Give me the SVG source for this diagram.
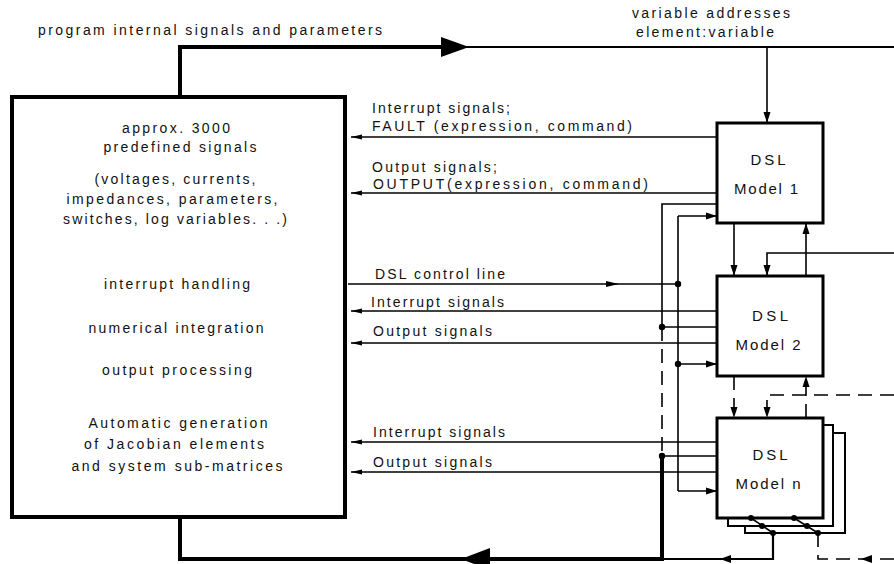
<svg xmlns="http://www.w3.org/2000/svg" width="894" height="564" viewBox="0 0 894 564">
<style>
text{font-family:"Liberation Sans",Arial,sans-serif;font-size:14px;fill:#111}
.c{text-anchor:middle}
.dsl{font-size:15px;text-anchor:middle}
.box{fill:#fff;stroke:#000;stroke-width:3}
.back{fill:#fff;stroke:#000;stroke-width:2}
.ln{fill:none;stroke:#000;stroke-width:1.6}
.thick{fill:none;stroke:#000;stroke-width:4}
.mid{fill:none;stroke:#000;stroke-width:2.2}
.dash{fill:none;stroke:#000;stroke-width:1.6;stroke-dasharray:14 8}
.ah{fill:#000}
</style>
<defs>
<marker id="a" markerUnits="userSpaceOnUse" markerWidth="12" markerHeight="8" refX="11" refY="4" orient="auto">
<path d="M0,0.5 L11,4 L0,7.5 z" fill="#000"/>
</marker>
<marker id="s" markerUnits="userSpaceOnUse" markerWidth="12" markerHeight="6" refX="11" refY="3" orient="auto">
<path d="M0,0.6 L11,3 L0,5.4 z" fill="#000"/>
</marker>
</defs>

<text x="38" y="35" textLength="344" lengthAdjust="spacing">program internal signals and parameters</text>
<text x="632" y="18" textLength="158" lengthAdjust="spacing">variable addresses</text>
<text x="636" y="37" textLength="138" lengthAdjust="spacing">element:variable</text>

<g id="connectors">
<!-- top loop -->
<path class="thick" d="M180,97 V47 H443"/>
<path class="mid" d="M466,47 H894"/>
<polygon class="ah" points="441,37 441,57 469,47"/>
<path class="ln" d="M767,47 V123" marker-end="url(#a)"/>
<!-- signals to left box -->
<path class="ln" d="M717,137 H351" marker-end="url(#s)"/>
<path class="ln" d="M717,193 H351" marker-end="url(#s)"/>
<path class="ln" d="M717,311 H351" marker-end="url(#s)"/>
<path class="ln" d="M717,343 H351" marker-end="url(#s)"/>
<path class="ln" d="M717,442 H351" marker-end="url(#s)"/>
<path class="ln" d="M717,472 H351" marker-end="url(#s)"/>
<!-- DSL control line -->
<path class="ln" d="M348,284 H678"/>
<polygon class="ah" points="606,281 619,284 606,287"/>
<path class="ln" d="M678,216 V491"/>
<path class="ln" d="M678,216 H717" marker-end="url(#a)"/>
<path class="ln" d="M678,364 H717" marker-end="url(#a)"/>
<path class="ln" d="M678,491 H717" marker-end="url(#a)"/>
<circle cx="678" cy="284" r="3.2"/>
<circle cx="678" cy="364" r="3.2"/>
<!-- model outputs collected at x=662 -->
<path class="ln" d="M717,204 H662 V327"/>
<path class="ln" d="M717,327 H662"/>
<path class="dash" d="M662,327 V456"/>
<path class="ln" d="M717,456 H662"/>
<circle cx="662" cy="327" r="3.2"/>
<circle cx="662" cy="456" r="3.2"/>
<path class="thick" d="M662,456 V559"/>
<!-- model 1 <-> model 2 -->
<path class="ln" d="M734,223 V276" marker-end="url(#a)"/>
<path class="ln" d="M894,253 H767 V276" marker-end="url(#a)"/>
<path class="ln" d="M806,276 V223" marker-end="url(#a)"/>
<!-- model 2 <-> model n -->
<path class="dash" d="M734,376 V418" marker-end="url(#a)"/>
<path class="dash" d="M894,395 H767 V418" marker-end="url(#a)"/>
<path class="dash" d="M806,418 V376" marker-end="url(#a)"/>
<!-- bottom return -->
<path class="mid" d="M773,533 V559 H662"/>
<path class="thick" d="M664,559 H180 V517"/>
<polygon class="ah" points="720,559 731,555 731,563"/>
<polygon class="ah" points="461,559 490,548 490,570"/>
<path class="dash" d="M818,533 V559 H894"/>
<polygon class="ah" points="861,559 872,555 872,563"/>
</g>

<g id="left-box">
<rect x="12" y="97" width="333" height="420" fill="#fff" stroke="#000" stroke-width="4"/>
<text class="c" x="176" y="133" textLength="108" lengthAdjust="spacing">approx. 3000</text>
<text class="c" x="180" y="152" textLength="153" lengthAdjust="spacing">predefined signals</text>
<text class="c" x="175" y="184" textLength="161" lengthAdjust="spacing">(voltages, currents,</text>
<text class="c" x="172" y="204" textLength="211" lengthAdjust="spacing">impedances, parameters,</text>
<text class="c" x="175" y="224" textLength="224" lengthAdjust="spacing">switches, log variables. . .)</text>
<text class="c" x="177" y="289" textLength="146" lengthAdjust="spacing">interrupt handling</text>
<text class="c" x="176" y="333" textLength="175" lengthAdjust="spacing">numerical integration</text>
<text class="c" x="177" y="375" textLength="150" lengthAdjust="spacing">output processing</text>
<text class="c" x="178" y="428" textLength="179" lengthAdjust="spacing">Automatic generation</text>
<text class="c" x="174" y="449" textLength="180" lengthAdjust="spacing">of Jacobian elements</text>
<text class="c" x="177" y="471" textLength="211" lengthAdjust="spacing">and system sub-matrices</text>
</g>

<g id="labels">
<text x="372" y="113" textLength="138" lengthAdjust="spacing">Interrupt signals;</text>
<text x="372" y="131" textLength="260" lengthAdjust="spacing">FAULT (expression, command)</text>
<text x="372" y="172" textLength="125" lengthAdjust="spacing">Output signals;</text>
<text x="373" y="189" textLength="275" lengthAdjust="spacing">OUTPUT(expression, command)</text>
<text x="375" y="279" textLength="130" lengthAdjust="spacing">DSL control line</text>
<text x="371" y="307" textLength="133" lengthAdjust="spacing">Interrupt signals</text>
<text x="373" y="336" textLength="119" lengthAdjust="spacing">Output signals</text>
<text x="373" y="437" textLength="132" lengthAdjust="spacing">Interrupt signals</text>
<text x="373" y="467" textLength="119" lengthAdjust="spacing">Output signals</text>
</g>

<g id="model1">
<rect class="box" x="717" y="123" width="106" height="100"/>
<text class="dsl" x="768" y="165" textLength="35" lengthAdjust="spacing">DSL</text>
<text class="dsl" x="766" y="194" textLength="64" lengthAdjust="spacing">Model 1</text>
</g>

<g id="model2">
<rect class="box" x="717" y="276" width="106" height="100"/>
<text class="dsl" x="770" y="321" textLength="36" lengthAdjust="spacing">DSL</text>
<text class="dsl" x="768" y="350" textLength="65" lengthAdjust="spacing">Model 2</text>
</g>

<g id="modeln">
<rect class="back" x="745" y="433" width="100" height="100"/>
<rect class="back" x="728" y="425" width="105" height="101"/>
<rect class="box" x="717" y="418" width="106" height="100"/>
<text class="dsl" x="770" y="460" textLength="35" lengthAdjust="spacing">DSL</text>
<text class="dsl" x="768" y="489" textLength="65" lengthAdjust="spacing">Model n</text>
<path class="ln" d="M751,518 L773,533 M794,518 L818,533"/>
<circle cx="751" cy="518" r="3"/>
<circle cx="762" cy="526" r="3"/>
<circle cx="773" cy="533" r="3"/>
<circle cx="794" cy="518" r="3"/>
<circle cx="807" cy="526" r="3"/>
<circle cx="818" cy="533" r="3"/>
</g>
</svg>
